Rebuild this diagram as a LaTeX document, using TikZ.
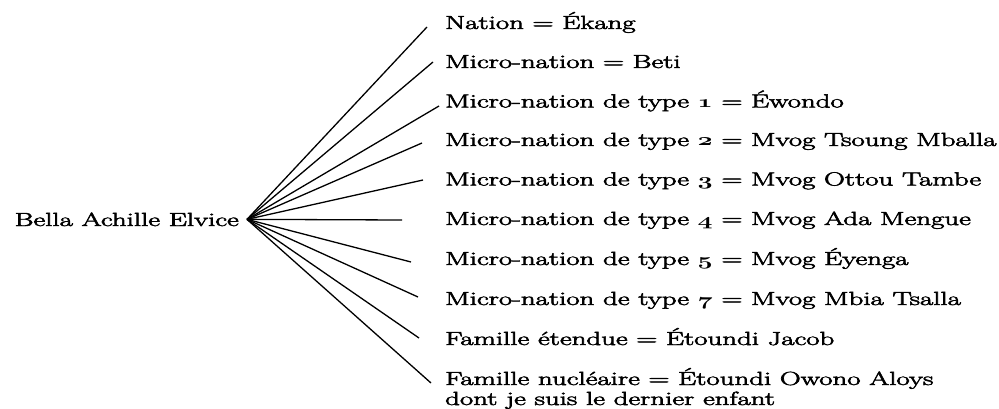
\documentclass[tikz,border=0pt]{standalone}
\usepackage{graphicx}
\usepackage{fontspec}
\newfontfamily\heavyrm{Latin Modern Roman}[FakeBold=2.5]
\newcommand\osn[1]{{\fontencoding{OML}\fontfamily{cmm}\fontseries{b}\fontshape{it}\selectfont #1}}
\newcommand\wtxt[1]{\scalebox{1.52}[1]{#1}}
\tikzset{
  txtfont/.style={font=\heavyrm\fontsize{19}{20}\selectfont},
  lbl/.style={anchor=base west, inner sep=0pt, txtfont},
  spoke/.style={line width=1.3pt, black},
}
\begin{document}
\begin{tikzpicture}[x=1pt,y=-1pt]
\useasboundingbox (0,0) rectangle (999,409);
\node[anchor=base east, inner xsep=8pt, inner ysep=0pt, txtfont] (root) at (247,226) {\wtxt{Bella Achille Elvice}};

\node[lbl] (n1) at (445,29) {\wtxt{Nation = Ékang}};
\node[lbl] (n2) at (445,68) {\wtxt{Micro-nation = Beti}};
\node[lbl] (n3) at (445,107.5) {\wtxt{Micro-nation de type \osn{1} = Éwondo}};
\node[lbl] (n4) at (445,146) {\wtxt{Micro-nation de type \osn{2} = Mvog Tsoung Mballa}};
\node[lbl] (n5) at (445,185.5) {\wtxt{Micro-nation de type \osn{3} = Mvog Ottou Tambe}};
\node[lbl] (n6) at (445,225) {\wtxt{Micro-nation de type \osn{4} = Mvog Ada Mengue}};
\node[lbl] (n7) at (445,265) {\wtxt{Micro-nation de type \osn{5} = Mvog Éyenga}};
\node[lbl] (n8) at (445,305) {\wtxt{Micro-nation de type \osn{7} = Mvog Mbia Tsalla}};
\node[lbl] (n9) at (445,345) {\wtxt{Famille étendue = Étoundi Jacob}};
\node[lbl] (n10) at (445,385) {\vtop{\baselineskip=20pt\hbox{\wtxt{Famille nucléaire = Étoundi Owono Aloys}}\hbox{\wtxt{dont je suis le dernier enfant}}}};

\coordinate (e1) at (427,27);
\coordinate (e2) at (433,62);
\coordinate (e3) at (439,106);
\coordinate (e4) at (422,143);
\coordinate (e5) at (423,180);
\coordinate (e6) at (402,220);
\coordinate (e7) at (411,262);
\coordinate (e8) at (418,297);
\coordinate (e9) at (419,338);
\coordinate (e10) at (431,383);

\foreach \i in {1,...,10} {\draw[spoke] (root.east) -- (e\i);}
\end{tikzpicture}
\end{document}
